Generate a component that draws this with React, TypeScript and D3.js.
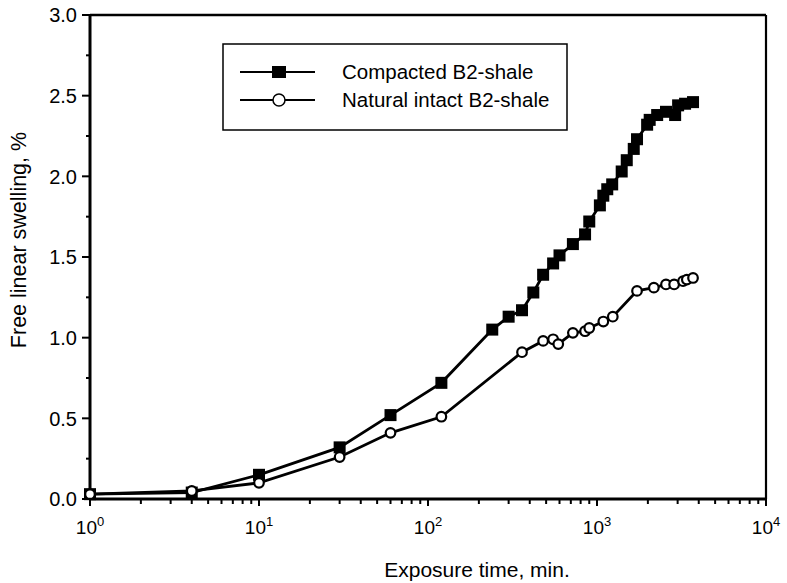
import React from "react";
import * as d3 from "d3";

const compactedTime = [1, 4, 10, 30, 60, 120, 240, 300, 360, 420, 480, 550, 600, 720, 850, 900, 1040, 1090, 1150, 1230, 1400, 1500, 1650, 1725, 1980, 2050, 2270, 2560, 2900, 3020, 3320, 3700];
const compactedSwelling = [0.03, 0.04, 0.15, 0.32, 0.52, 0.72, 1.05, 1.13, 1.17, 1.28, 1.39, 1.46, 1.51, 1.58, 1.64, 1.72, 1.82, 1.88, 1.92, 1.95, 2.03, 2.10, 2.17, 2.23, 2.32, 2.35, 2.38, 2.40, 2.38, 2.44, 2.45, 2.46];

const naturalTime = [1, 4, 10, 30, 60, 120, 360, 480, 550, 590, 720, 850, 900, 1090, 1240, 1725, 2170, 2560, 2860, 3230, 3400, 3700];
const naturalSwelling = [0.03, 0.05, 0.10, 0.26, 0.41, 0.51, 0.91, 0.98, 0.99, 0.96, 1.03, 1.04, 1.06, 1.10, 1.13, 1.29, 1.31, 1.33, 1.33, 1.35, 1.36, 1.37];

const xDecades = [0, 1, 2, 3, 4];
const yTickLabels = ["0.0", "0.5", "1.0", "1.5", "2.0", "2.5", "3.0"];
const seriesNames = ["Compacted B2-shale", "Natural intact B2-shale"];
const xTitle = "Exposure time, min.";
const yTitle = "Free linear swelling, %";

const W = 787, H = 583;
const M = { left: 90, right: 766, top: 15, bottom: 499 };
const FONT = "'Liberation Sans', Arial, Helvetica, sans-serif";

export default function App() {
  const x = d3.scaleLog().domain([1, 1e4]).range([M.left, M.right]);
  const y = d3.scaleLinear().domain([0, 3]).range([M.bottom, M.top]);

  const line = d3
    .line<[number, number]>()
    .x((d) => x(d[0]))
    .y((d) => y(d[1]));

  const comp: [number, number][] = compactedTime.map((t, i) => [t, compactedSwelling[i]]);
  const nat: [number, number][] = naturalTime.map((t, i) => [t, naturalSwelling[i]]);

  const minorX: number[] = [];
  for (let k = 0; k < 4; k++) for (let m = 2; m <= 9; m++) minorX.push(m * Math.pow(10, k));
  const minorY = d3.range(0.25, 3, 0.5);

  const sq = 12;
  const cr = 4.8;

  return (
    <svg width={W} height={H} style={{ position: "absolute", left: 0, top: 0, background: "#fff" }} fontFamily={FONT}>
      <rect x={0} y={0} width={W} height={H} fill="#fff" />
      {/* frame */}
      <line x1={M.left} x2={M.right} y1={M.top} y2={M.top} stroke="#000" strokeWidth={2.5} />
      <line x1={M.right} x2={M.right} y1={M.top} y2={M.bottom} stroke="#000" strokeWidth={2.2} />
      <line x1={M.left} x2={M.left} y1={M.top} y2={M.bottom} stroke="#000" strokeWidth={3} />
      <line x1={M.left} x2={M.right} y1={M.bottom} y2={M.bottom} stroke="#000" strokeWidth={2.8} />
      {/* y ticks */}
      {yTickLabels.map((lab) => (
        <g key={lab}>
          <line x1={M.left - 8} x2={M.left} y1={y(+lab)} y2={y(+lab)} stroke="#000" strokeWidth={2} />
          <text x={M.left - 13} y={y(+lab)} dy="0.36em" textAnchor="end" fontSize={20}>{lab}</text>
        </g>
      ))}
      {minorY.map((v) => (
        <line key={v} x1={M.left - 4} x2={M.left} y1={y(v)} y2={y(v)} stroke="#000" strokeWidth={2} />
      ))}
      {/* x ticks */}
      {xDecades.map((k) => (
        <g key={k}>
          <line x1={x(Math.pow(10, k))} x2={x(Math.pow(10, k))} y1={M.bottom} y2={M.bottom + 7} stroke="#000" strokeWidth={2} />
          <text x={x(Math.pow(10, k))} y={534} textAnchor="middle" fontSize={19}>
            10<tspan fontSize={13} dy={-8}>{k}</tspan>
          </text>
        </g>
      ))}
      {minorX.map((v) => (
        <line key={v} x1={x(v)} x2={x(v)} y1={M.bottom} y2={M.bottom + 5} stroke="#000" strokeWidth={2} />
      ))}
      {/* titles */}
      <text x={477} y={577} textAnchor="middle" fontSize={21}>{xTitle}</text>
      <text transform={`translate(26,${240}) rotate(-90)`} textAnchor="middle" fontSize={21.5}>{yTitle}</text>
      {/* series lines */}
      <path d={line(comp) || ""} fill="none" stroke="#000" strokeWidth={2.8} />
      <path d={line(nat) || ""} fill="none" stroke="#000" strokeWidth={2.8} />
      {comp.map((d, i) => (
        <rect key={i} x={x(d[0]) - sq / 2} y={y(d[1]) - sq / 2} width={sq} height={sq} fill="#000" />
      ))}
      {nat.map((d, i) => (
        <circle key={i} cx={x(d[0])} cy={y(d[1])} r={cr} fill="#fff" stroke="#000" strokeWidth={2.2} />
      ))}
      {/* legend */}
      <rect x={223} y={44} width={344} height={86} fill="#fff" stroke="#000" strokeWidth={1.5} />
      <line x1={240} x2={315} y1={72} y2={72} stroke="#000" strokeWidth={1.8} />
      <rect x={272} y={66} width={14} height={12} fill="#000" />
      <text x={342} y={72} dy="0.36em" fontSize={20.5}>{seriesNames[0]}</text>
      <line x1={240} x2={315} y1={100} y2={100} stroke="#000" strokeWidth={1.8} />
      <circle cx={279} cy={100} r={6} fill="#fff" stroke="#000" strokeWidth={1.5} />
      <text x={342} y={100} dy="0.36em" fontSize={20.5}>{seriesNames[1]}</text>
    </svg>
  );
}
